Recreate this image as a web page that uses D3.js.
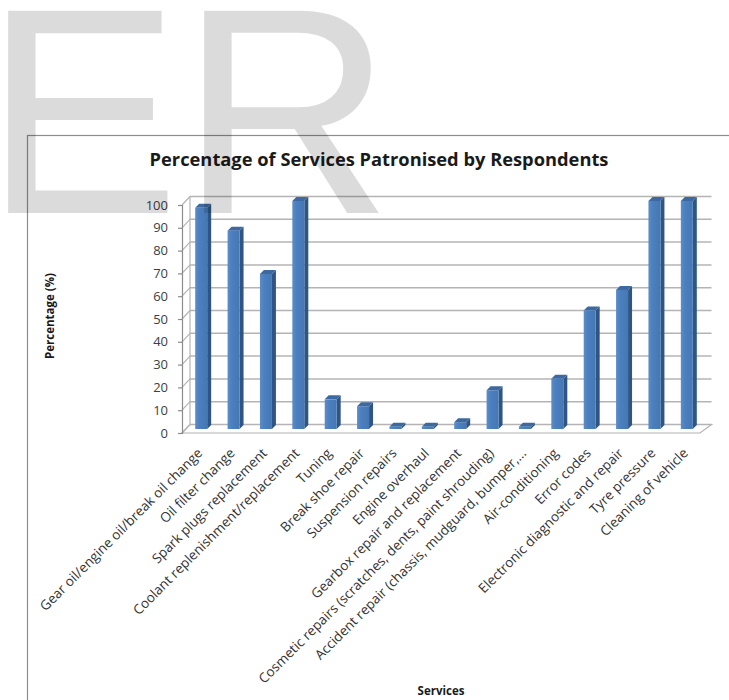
<!DOCTYPE html>
<html>
<head>
<meta charset="utf-8">
<script src="https://cdn.jsdelivr.net/npm/d3@7"></script>
<style>
  body { margin: 0; background: #fff; }
  svg { display: block; font-family: "Open Sans", Lato, sans-serif; }
</style>
</head>
<body>
<svg></svg>
<script>
'use strict';

// data
var categories = [
  'Gear oil/engine oil/break oil change',
  'Oil filter change',
  'Spark plugs replacement',
  'Coolant replenishment/replacement',
  'Tuning',
  'Break shoe repair',
  'Suspension repairs',
  'Engine overhaul',
  'Gearbox repair and replacement',
  'Cosmetic repairs (scratches, dents, paint shrouding)',
  'Accident repair (chassis, mudguard, bumper,...',
  'Air-conditioning',
  'Error codes',
  'Electronic diagnostic and repair',
  'Tyre pressure',
  'Cleaning of vehicle'
];
var values = [97, 87, 68, 100, 13, 10, 1, 1, 3, 17, 1, 22, 52, 61, 100, 100];
var yTicks = [0, 10, 20, 30, 40, 50, 60, 70, 80, 90, 100];

var canvasWidth = 729;
var canvasHeight = 700;
var svg = d3.select('svg')
  .attr('width', canvasWidth)
  .attr('height', canvasHeight);

// fake 3d: depth of the walls and of the bars
var depthX = 8, depthY = -8.5;
var barOffX = 3, barOffY = -4, barDepth = 4;

var xScale = d3.scaleBand()
  .domain(categories)
  .range([182, 700])
  .paddingInner(0.63)
  .paddingOuter(0.315);

var yScale = d3.scaleLinear()
  .domain([0, 100])
  .range([433, 205]);

var defs = svg.append('defs');
var grad = defs.append('linearGradient').attr('id', 'barFront');
grad.append('stop').attr('offset', '0%').attr('stop-color', '#5b8dcb');
grad.append('stop').attr('offset', '35%').attr('stop-color', '#4b7fbe');
grad.append('stop').attr('offset', '100%').attr('stop-color', '#4677b4');

// chart frame
svg.append('rect')
  .attr('x', 27.5)
  .attr('y', 135.5)
  .attr('width', 800)
  .attr('height', 700)
  .attr('fill', 'none')
  .attr('stroke', '#8c8c8c')
  .attr('stroke-width', 1.2);

//title
svg.append('text')
  .attr('x', 379)
  .attr('y', 166)
  .attr('text-anchor', 'middle')
  .style('font-size', '18.3px')
  .style('font-weight', 'bold')
  .attr('fill', '#1a1a1a')
  .text('Percentage of Services Patronised by Respondents');

var plot = svg.append('g');
var x0 = xScale.range()[0], x1 = xScale.range()[1];

// floor
plot.append('polygon')
  .attr('points', [
    [x0, yScale(0)], [x1, yScale(0)],
    [x1 + 11.5, yScale(0) + depthY], [x0 + depthX, yScale(0) + depthY]
  ].join(' '))
  .attr('fill', '#fff')
  .attr('stroke', '#b4b4b4')
  .attr('stroke-width', 1.2);

// back wall gridlines + side wall diagonals
plot.selectAll('.grid')
  .data(yTicks)
  .enter()
  .append('line')
    .attr('class', 'grid')
    .attr('x1', x0 + depthX)
    .attr('x2', x1 + 11.5)
    .attr('y1', function(d) { return yScale(d) + depthY; })
    .attr('y2', function(d) { return yScale(d) + depthY; })
    .attr('stroke', '#b4b4b4')
    .attr('stroke-width', 1.5);

plot.selectAll('.side')
  .data(yTicks)
  .enter()
  .append('line')
    .attr('class', 'side')
    .attr('x1', x0)
    .attr('x2', x0 + depthX)
    .attr('y1', function(d) { return yScale(d); })
    .attr('y2', function(d) { return yScale(d) + depthY; })
    .attr('stroke', '#b4b4b4')
    .attr('stroke-width', 1.2);

plot.append('line')
  .attr('x1', x0 + depthX).attr('x2', x0 + depthX)
  .attr('y1', yScale(0) + depthY).attr('y2', yScale(100) + depthY)
  .attr('stroke', '#b4b4b4')
  .attr('stroke-width', 1.2);

// y axis
var yAxis = plot.append('g')
  .attr('transform', 'translate(' + x0 + ',0)')
  .call(d3.axisLeft(yScale).tickValues(yTicks).tickSize(4).tickPadding(10));
yAxis.select('.domain').attr('stroke', '#8c8c8c').attr('stroke-width', 1.2);
yAxis.selectAll('.tick line').attr('stroke', '#8c8c8c').attr('stroke-width', 1.2);
yAxis.selectAll('.tick text')
  .attr('fill', '#404040')
  .style('font-size', '13px')
  .style('font-family', '"Open Sans", sans-serif');

// bars
var bars = plot.selectAll('.bar')
  .data(values)
  .enter()
  .append('g')
    .attr('class', 'bar');

var bw = xScale.bandwidth();
function barLeft(d, i) { return xScale(categories[i]) + barOffX; }
function barTop(d) { return yScale(d) + barOffY; }
function barBottom() { return yScale(0) + barOffY; }

bars.append('polygon')
  .attr('points', function(d, i) {
    var l = barLeft(d, i) + bw, t = barTop(d), b = barBottom();
    return [[l, t], [l + barDepth, t - barDepth], [l + barDepth, b - barDepth], [l, b]].join(' ');
  })
  .attr('fill', '#2f5584');

bars.append('polygon')
  .attr('points', function(d, i) {
    var l = barLeft(d, i), t = barTop(d);
    return [[l, t], [l + barDepth, t - barDepth], [l + bw + barDepth, t - barDepth], [l + bw, t]].join(' ');
  })
  .attr('fill', '#3d68a0');

bars.append('rect')
  .attr('x', barLeft)
  .attr('y', barTop)
  .attr('width', bw)
  .attr('height', function(d) { return barBottom() - barTop(d); })
  .attr('fill', 'url(#barFront)');

// category labels
plot.selectAll('.xlabel')
  .data(categories)
  .enter()
  .append('text')
    .attr('class', 'xlabel')
    .attr('text-anchor', 'end')
    .attr('transform', function(d) {
      return 'translate(' + (xScale(d) + bw / 2 + 5) + ',454) rotate(-45)';
    })
    .attr('fill', '#333')
    .style('font-size', '13.5px')
    .text(function(d) { return d; });

// axis titles
svg.append('text')
  .attr('transform', 'translate(54,316) rotate(-90)')
  .attr('text-anchor', 'middle')
  .style('font-size', '11.5px')
  .style('font-weight', 'bold')
  .attr('fill', '#1a1a1a')
  .text('Percentage (%)');

svg.append('text')
  .attr('x', 441)
  .attr('y', 695)
  .attr('text-anchor', 'middle')
  .style('font-size', '11.5px')
  .style('font-weight', 'bold')
  .attr('fill', '#1a1a1a')
  .text('Services');

// watermark on top
svg.append('text')
  .attr('x', -16)
  .attr('y', 213)
  .style('font-family', '"Liberation Sans", Arial, sans-serif')
  .style('font-size', '294px')
  .attr('fill', '#000')
  .attr('fill-opacity', 0.14)
  .text('ER');
</script>
</body>
</html>
